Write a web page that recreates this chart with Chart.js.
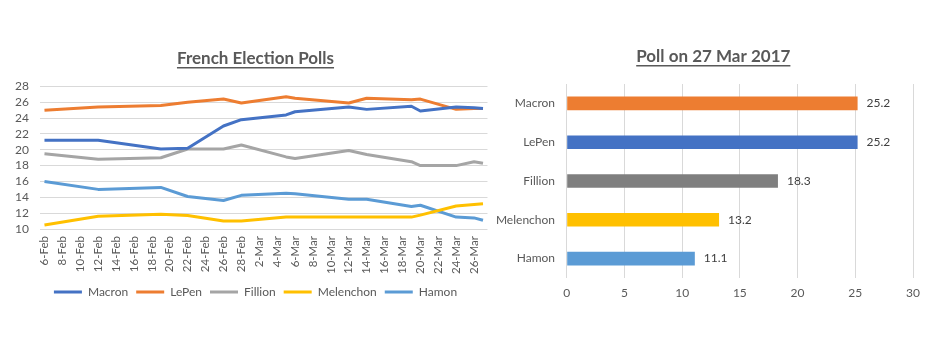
<!DOCTYPE html>
<html>
<head>
<meta charset="utf-8">
<script src="https://cdn.jsdelivr.net/npm/chart.js@4/dist/chart.umd.min.js"></script>
<style>
body{margin:0;background:#ffffff;}
#pollsChart{position:absolute;left:0;top:0;}
#lastPoll{position:absolute;left:495px;top:0;}
</style>
</head>
<body>
<canvas id="pollsChart" width="495" height="353"></canvas>
<canvas id="lastPoll" width="449" height="353"></canvas>
<script>

// ================= DATA =================

const pollDates = ["6-Feb","12-Feb","19-Feb","22-Feb","26-Feb","28-Feb","5-Mar","6-Mar","12-Mar","14-Mar","19-Mar","20-Mar","24-Mar","26-Mar","27-Mar"];

const macron    = [21.2,21.2,20.1,20.2,23.0,23.8,24.4,24.8,25.4,25.1,25.5,24.9,25.4,25.3,25.2];
const lepen     = [25.0,25.4,25.6,26.0,26.4,25.9,26.7,26.5,25.9,26.5,26.3,26.4,25.1,25.2,25.2];
const fillion   = [19.5,18.8,19.0,20.1,20.1,20.6,19.1,18.9,19.9,19.4,18.5,18.0,18.0,18.5,18.3];
const melenchon = [10.5,11.6,11.85,11.7,11.0,11.0,11.5,11.5,11.5,11.5,11.5,11.75,12.9,13.1,13.2];
const hamon     = [16.0,15.0,15.25,14.1,13.6,14.25,14.5,14.45,13.75,13.75,12.85,13.0,11.5,11.4,11.1];

const dateTicks = ["6-Feb","8-Feb","10-Feb","12-Feb","14-Feb","16-Feb","18-Feb","20-Feb","22-Feb","24-Feb","26-Feb","28-Feb",
"2-Mar","4-Mar","6-Mar","8-Mar","10-Mar","12-Mar","14-Mar","16-Mar","18-Mar","20-Mar","22-Mar","24-Mar","26-Mar"];

const candidates = ["Macron","LePen","Fillion","Melenchon","Hamon"];
const lastPoll   = [25.2,25.2,18.3,13.2,11.1];
const barColors  = ["#ED7D31","#4472C4","#7F7F7F","#FFC000","#5B9BD5"];


// days since 6 Feb 2017
const months = {Feb:1, Mar:2};
function dayOf(s){
  const p = s.split("-");
  return (Date.UTC(2017, months[p[1]], +p[0]) - Date.UTC(2017,1,6)) / 864e5;
}
const tickDays = dateTicks.map(dayOf);
const labelFor = {};
dateTicks.forEach(t => labelFor[dayOf(t)] = t);

function series(vals){
  return pollDates.map((d,i) => ({x: dayOf(d), y: vals[i]}));
}

const grey = "#595959";
const gridGrey = "#D9D9D9";
const font = "Lato";


// excel centres title + legend on the whole chart box, not the padded area
const shiftBlocks = {
  id: "shiftBlocks",
  afterLayout(chart, args, opts){
    const dx = opts.dx || 0;
    [chart.titleBlock, chart.legend].forEach(b => {
      if(b && b.options.display){ b.left += dx; b.right += dx; }
    });
  }
};

// underline under the chart title
const underlineTitle = {
  id: "underlineTitle",
  afterDraw(chart){
    const tb = chart.titleBlock;
    if(!tb || !tb.options.display) return;
    const f = tb.options.font;
    const ctx = chart.ctx;
    ctx.save();
    ctx.font = "bold " + f.size + "px " + f.family;
    const w = ctx.measureText(tb.options.text).width;
    const cx = (tb.left + tb.right) / 2;
    const cy = tb.top + tb.options.padding.top + f.size * 1.2 / 2;
    ctx.strokeStyle = grey;
    ctx.lineWidth = 1.5;
    ctx.beginPath();
    ctx.moveTo(cx - w/2, cy + f.size * 0.56);
    ctx.lineTo(cx + w/2, cy + f.size * 0.56);
    ctx.stroke();
    ctx.restore();
  }
};

// value labels at bar ends
const barValues = {
  id: "barValues",
  afterDatasetsDraw(chart){
    const ctx = chart.ctx;
    ctx.save();
    ctx.font = "12px " + font;
    ctx.fillStyle = "#404040";
    ctx.textAlign = "left";
    ctx.textBaseline = "middle";
    chart.getDatasetMeta(0).data.forEach((bar,i) => {
      ctx.fillText(chart.data.datasets[0].data[i].toFixed(1), bar.x + 9, bar.y);
    });
    ctx.restore();
  }
};


// ================= FRENCH ELECTION POLLS =================

function lineSet(label, vals, color){
  return {
    label: label,
    data: series(vals),
    borderColor: color,
    backgroundColor: color,
    borderWidth: 3,
    pointRadius: 0,
    tension: 0,
    borderJoinStyle: "round"
  };
}

new Chart(document.getElementById("pollsChart"), {
  type: "line",
  data: {
    datasets: [
      lineSet("Macron", macron, "#4472C4"),
      lineSet("LePen", lepen, "#ED7D31"),
      lineSet("Fillion", fillion, "#A5A5A5"),
      lineSet("Melenchon", melenchon, "#FFC000"),
      lineSet("Hamon", hamon, "#5B9BD5")
    ]
  },
  options: {
    responsive: false,
    animation: false,
    layout: {padding: {left: 0, right: 5, top: 0, bottom: 45}},
    plugins: {
      shiftBlocks: {dx: 10.5},
      title: {
        display: true,
        text: "French Election Polls",
        color: grey,
        font: {family: font, size: 17, weight: "bold"},
        padding: {top: 48, bottom: 18}
      },
      legend: {
        position: "bottom",
        labels: {
          color: grey,
          font: {family: font, size: 12},
          boxWidth: 28,
          boxHeight: 3,
          padding: 8,
          generateLabels(chart){
            const items = Chart.defaults.plugins.legend.labels.generateLabels(chart);
            items.forEach(it => { it.lineWidth = 0; it.fillStyle = it.strokeStyle; });
            return items;
          }
        }
      },
      tooltip: {enabled: false}
    },
    scales: {
      x: {
        type: "linear",
        min: -0.5,
        max: 49.5,
        afterBuildTicks(scale){ scale.ticks = tickDays.map(v => ({value: v})); },
        afterFit(scale){ scale.height = 49; },
        grid: {display: false, drawTicks: false},
        border: {display: false},
        ticks: {
          color: grey,
          font: {family: font, size: 11.5},
          minRotation: 90,
          maxRotation: 90,
          autoSkip: false,
          padding: 7,
          callback: v => labelFor[v]
        }
      },
      y: {
        min: 10,
        max: 28,
        afterFit(scale){ scale.width = 40; },
        grid: {color: gridGrey, drawTicks: false},
        border: {display: false},
        ticks: {
          color: grey,
          font: {family: font, size: 12},
          stepSize: 2,
          autoSkip: false,
          padding: 11
        }
      }
    }
  },
  plugins: [shiftBlocks, underlineTitle]
});


// ================= POLL ON 27 MAR 2017 =================

new Chart(document.getElementById("lastPoll"), {
  type: "bar",
  data: {
    labels: candidates,
    datasets: [{
      data: lastPoll,
      backgroundColor: barColors,
      categoryPercentage: 1,
      barPercentage: 0.35
    }]
  },
  options: {
    indexAxis: "y",
    responsive: false,
    animation: false,
    layout: {padding: {left: 0, right: 31, top: 0, bottom: 44.6}},
    plugins: {
      shiftBlocks: {dx: 9.3},
      title: {
        display: true,
        text: "Poll on 27 Mar 2017",
        color: grey,
        font: {family: font, size: 17, weight: "bold"},
        padding: {top: 46, bottom: 17.6}
      },
      legend: {display: false},
      tooltip: {enabled: false}
    },
    scales: {
      x: {
        min: 0,
        max: 30,
        grid: {color: gridGrey, drawTicks: false},
        border: {display: false},
        ticks: {
          color: grey,
          font: {family: font, size: 12},
          stepSize: 5,
          padding: 8
        }
      },
      y: {
        afterFit(scale){ scale.width = 71.7; },
        grid: {display: false, drawTicks: false},
        border: {display: false},
        ticks: {
          color: grey,
          font: {family: font, size: 12},
          padding: 11.7
        }
      }
    }
  },
  plugins: [shiftBlocks, underlineTitle, barValues]
});

</script>
</body>
</html>
